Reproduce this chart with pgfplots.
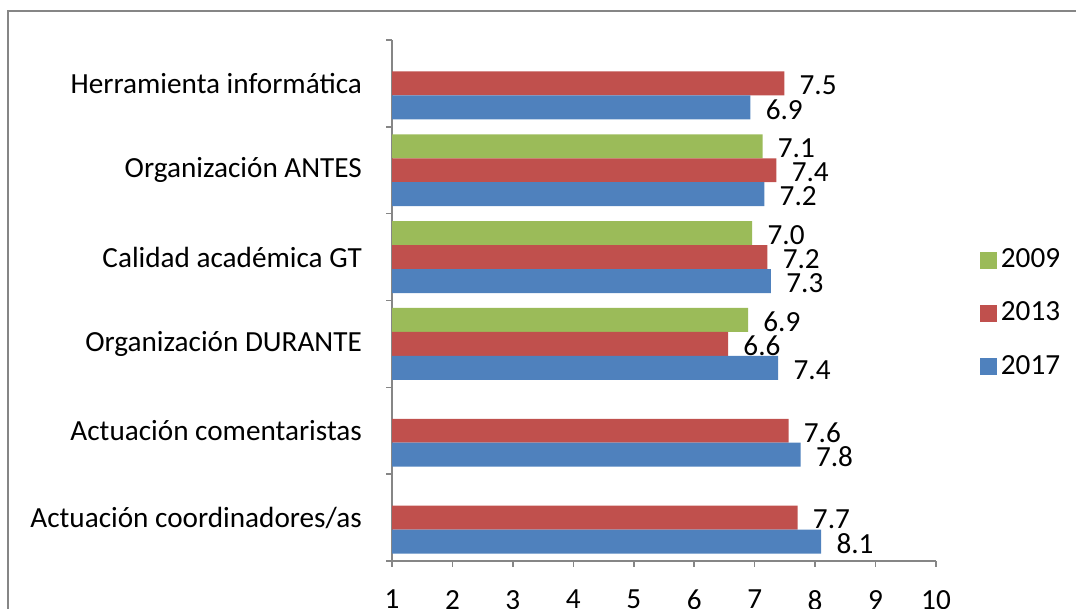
\documentclass[border=0pt]{standalone}
\usepackage{fontspec}
\setmainfont{Carlito}
\usepackage{pgfplots}
\pgfplotsset{compat=1.18}
\definecolor{c09}{HTML}{9BBB59}
\definecolor{c13}{HTML}{C0504D}
\definecolor{c17}{HTML}{4F81BD}
\definecolor{axisgray}{HTML}{868686}
\begin{document}
\fontsize{14.6}{17}\selectfont
\begin{tikzpicture}
\useasboundingbox (0,0) rectangle (538pt,304.5pt);
% outer chart frame (cut at right and bottom)
\draw[axisgray, line width=0.6pt] (4pt,0) -- (4pt,299pt) -- (538pt,299pt);
\begin{axis}[
  at={(196pt,24pt)}, anchor=south west,
  scale only axis, width=272pt, height=260.5pt,
  xbar, bar width=0.276,
  xmin=1, xmax=10, xtick={1,...,10},
  ymin=-0.5, ymax=5.5, ytick={0,...,5},
  yticklabels={Actuación coordinadores/as, Actuación comentaristas,
    Organización DURANTE, Calidad académica GT, Organización ANTES,
    Herramienta informática},
  minor ytick={-0.5,0.5,...,5.5},
  axis lines*=left,
  axis line style={axisgray, line width=0.8pt, -},
  tick align=outside, major tick length=3pt, minor tick length=3pt,
  tick style={axisgray, line width=0.8pt},
  major y tick style={draw=none},
  /pgf/number format/assume math mode=true,
  xticklabel style={yshift=-6.5pt},
  yticklabel style={xshift=-7pt},
  point meta=x,
  nodes near coords={\pgfmathprintnumber[fixed,fixed zerofill,precision=1,assume math mode=true]{\pgfplotspointmeta}},
  nodes near coords style={anchor=west, inner sep=1pt, xshift=6.5pt, yshift=-1pt, black},
  legend image code/.code={\fill[#1] (0pt,-4.25pt) rectangle (8.5pt,4.25pt);},
  legend style={at={(1.08,0.475)}, anchor=west, draw=none, fill=none,
    inner sep=0pt, row sep=11pt, legend cell align=left},
]
\addplot[fill=c09, draw=none, bar shift=0.276] coordinates {
  (6.96,3) (7.13,4) (6.89,2)
};
\addlegendentry{2009}
\addplot[fill=c13, draw=none, bar shift=0] coordinates {
  (7.71,0) (7.56,1) (6.56,2) (7.21,3) (7.36,4) (7.49,5)
};
\addlegendentry{2013}
\addplot[fill=c17, draw=none, bar shift=-0.276] coordinates {
  (8.10,0) (7.76,1) (7.39,2) (7.27,3) (7.16,4) (6.93,5)
};
\addlegendentry{2017}
\end{axis}
\end{tikzpicture}
\end{document}
